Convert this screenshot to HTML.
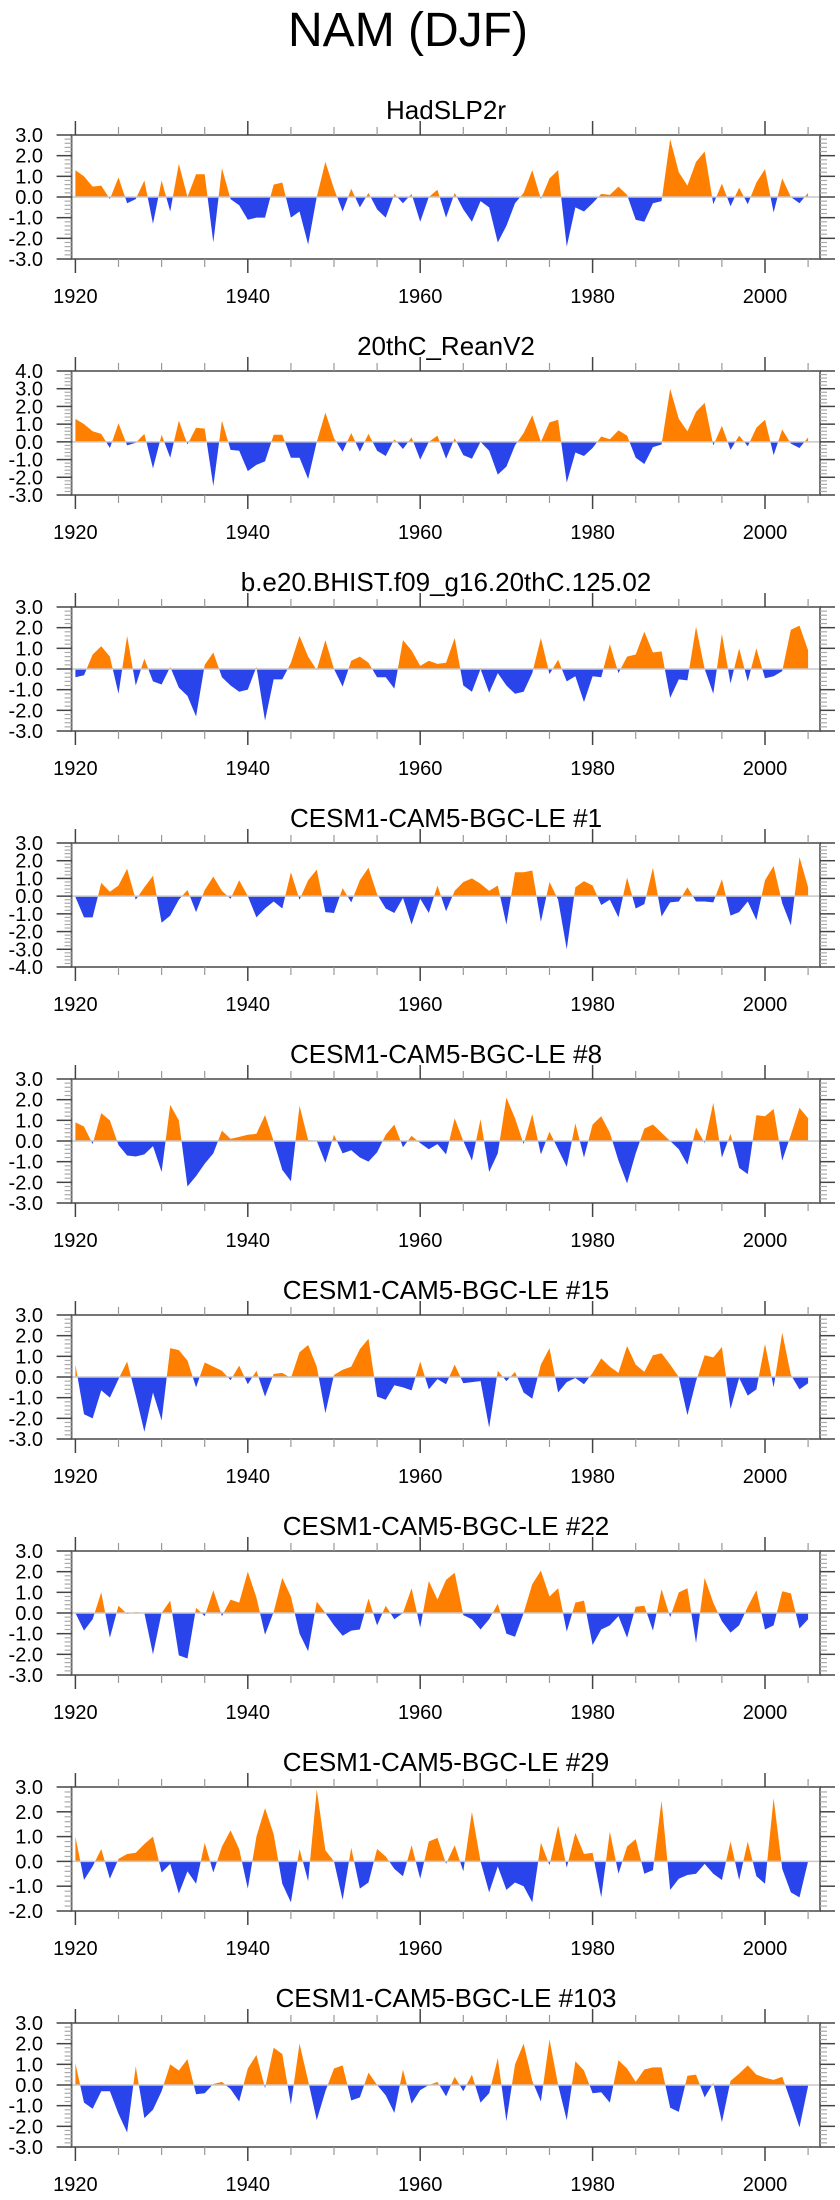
<!DOCTYPE html>
<html><head><meta charset="utf-8"><style>
html,body{margin:0;padding:0;background:#fff;}
svg{display:block;font-family:"Liberation Sans",Arial,sans-serif;}
</style></head><body>
<svg id="chart" width="840" height="2200" viewBox="0 0 840 2200" xmlns="http://www.w3.org/2000/svg">
<text x="408" y="46" font-size="48" text-anchor="middle" fill="#000">NAM (DJF)</text>
</svg>
<script>
const startYear = 1920;
const titles = ["HadSLP2r","20thC_ReanV2","b.e20.BHIST.f09_g16.20thC.125.02","CESM1-CAM5-BGC-LE #1","CESM1-CAM5-BGC-LE #8","CESM1-CAM5-BGC-LE #15","CESM1-CAM5-BGC-LE #22","CESM1-CAM5-BGC-LE #29","CESM1-CAM5-BGC-LE #103"];
const yMins = [-3,-3,-3,-4,-3,-3,-3,-2,-3];
const yMaxs = [3,4,3,3,3,3,3,3,3];
const xTickYears = [1920,1940,1960,1980,2000];
const s1 = [1.3,1.0,0.5,0.55,-0.1,0.95,-0.3,-0.1,0.8,-1.3,0.8,-0.7,1.6,0.0,1.1,1.1,-2.2,1.4,-0.1,-0.4,-1.1,-1.0,-1.0,0.6,0.7,-1.0,-0.7,-2.3,0.0,1.7,0.4,-0.7,0.4,-0.5,0.2,-0.6,-1.0,0.15,-0.3,0.15,-1.2,0.0,0.35,-1.0,0.2,-0.6,-1.2,-0.2,-0.5,-2.2,-1.4,-0.3,0.2,1.3,-0.1,0.9,1.3,-2.4,-0.5,-0.7,-0.3,0.15,0.1,0.5,0.1,-1.1,-1.2,-0.3,-0.2,2.8,1.2,0.55,1.7,2.2,-0.35,0.65,-0.45,0.45,-0.35,0.7,1.35,-0.75,0.9,0.0,-0.3,0.2];
const s2 = [1.3,1.0,0.6,0.45,-0.35,1.05,-0.2,-0.05,0.45,-1.5,0.4,-0.9,1.2,-0.15,0.8,0.75,-2.5,1.2,-0.45,-0.5,-1.65,-1.3,-1.1,0.4,0.4,-0.9,-0.9,-2.1,0.0,1.65,0.2,-0.55,0.5,-0.55,0.45,-0.5,-0.8,0.15,-0.4,0.25,-1.0,0.0,0.35,-0.95,0.2,-0.75,-0.95,0.0,-0.5,-1.85,-1.4,-0.2,0.5,1.5,0.0,1.1,1.25,-2.3,-0.6,-0.8,-0.35,0.3,0.15,0.65,0.35,-0.9,-1.25,-0.3,-0.15,3.0,1.3,0.6,1.7,2.2,-0.2,0.9,-0.45,0.35,-0.25,0.8,1.25,-0.75,0.7,-0.1,-0.35,0.25];
const s3 = [-0.4,-0.3,0.7,1.1,0.6,-1.2,1.6,-0.8,0.5,-0.6,-0.75,0.1,-0.9,-1.3,-2.3,0.2,0.8,-0.4,-0.8,-1.1,-1.0,0.1,-2.5,-0.5,-0.5,0.3,1.6,0.6,-0.05,1.4,0.0,-0.85,0.4,0.6,0.3,-0.4,-0.4,-0.95,1.4,0.9,0.15,0.4,0.25,0.3,1.5,-0.8,-1.1,0.0,-1.15,-0.2,-0.8,-1.2,-1.1,-0.2,1.5,-0.25,0.45,-0.6,-0.35,-1.6,-0.35,-0.4,1.2,-0.2,0.6,0.7,1.8,0.8,0.85,-1.4,-0.5,-0.55,2.05,0.0,-1.2,1.7,-0.7,1.0,-0.6,1.0,-0.45,-0.35,-0.1,1.9,2.1,0.9];
const s4 = [-0.05,-1.2,-1.2,0.75,0.25,0.6,1.55,-0.2,0.5,1.15,-1.5,-1.1,-0.2,0.35,-0.9,0.35,1.1,0.3,-0.15,0.9,0.0,-1.2,-0.7,-0.3,-0.7,1.35,-0.2,0.9,1.5,-0.9,-0.95,0.45,-0.35,0.9,1.6,0.1,-0.7,-0.95,-0.1,-1.6,-0.15,-0.95,0.6,-0.85,0.3,0.8,1.0,0.7,0.3,0.6,-1.6,1.35,1.35,1.45,-1.45,0.8,-0.2,-3.0,0.5,0.85,0.6,-0.5,-0.2,-1.2,1.05,-0.7,-0.45,1.6,-1.15,-0.35,-0.3,0.5,-0.3,-0.3,-0.35,0.95,-1.1,-0.9,-0.3,-1.35,0.9,1.7,-0.4,-1.65,2.2,0.5];
const s5 = [0.9,0.7,-0.15,1.35,1.0,-0.2,-0.7,-0.75,-0.65,-0.25,-1.5,1.75,1.0,-2.2,-1.7,-1.1,-0.6,0.5,0.1,0.2,0.3,0.35,1.25,0.0,-1.4,-1.95,1.7,0.05,0.0,-1.05,0.3,-0.6,-0.45,-0.8,-1.0,-0.55,0.3,0.8,-0.3,0.25,-0.1,-0.4,-0.15,-0.65,1.1,0.0,-0.95,1.05,-1.5,-0.6,2.1,1.1,-0.15,1.3,-0.65,0.45,-0.4,-1.25,0.85,-0.8,0.8,1.2,0.4,-0.95,-2.05,-0.6,0.6,0.8,0.4,0.0,-0.4,-1.15,0.65,-0.1,1.85,-0.8,0.35,-1.3,-1.6,1.25,1.2,1.55,-0.95,0.3,1.6,1.1];
const s6 = [0.6,-1.8,-2.0,-0.65,-1.0,-0.1,0.75,-0.9,-2.65,-0.75,-2.1,1.4,1.3,0.8,-0.5,0.7,0.5,0.3,-0.15,0.55,-0.35,0.3,-0.95,0.15,0.2,-0.05,1.2,1.55,0.5,-1.75,0.1,0.35,0.5,1.35,1.85,-0.95,-1.1,-0.4,-0.5,-0.65,0.75,-0.6,-0.1,-0.35,0.6,-0.3,-0.25,-0.2,-2.45,0.3,-0.2,0.25,-0.75,-1.05,0.6,1.4,-0.75,-0.25,-0.05,-0.35,0.2,0.9,0.5,0.2,1.5,0.6,0.25,1.05,1.15,0.6,0.0,-1.85,-0.2,1.05,0.95,1.45,-1.55,-0.05,-0.9,-0.6,1.6,-0.5,2.15,0.1,-0.6,-0.3];
const s7 = [0.0,-0.85,-0.3,1.0,-1.2,0.35,-0.05,0.05,0.0,-2.0,0.0,0.6,-2.05,-2.2,0.25,-0.15,1.1,-0.15,0.65,0.5,2.0,0.75,-1.05,0.05,1.7,0.8,-1.0,-1.85,0.55,0.0,-0.6,-1.1,-0.85,-0.8,0.7,-0.6,0.35,-0.3,0.0,1.2,-0.7,1.55,0.65,1.6,1.95,-0.1,-0.3,-0.8,-0.3,0.45,-1.0,-1.15,0.0,1.4,2.05,0.8,1.2,-0.9,0.5,0.6,-1.55,-0.8,-0.6,-0.15,-1.2,0.3,0.35,-0.85,1.15,-0.2,1.0,1.2,-1.45,1.7,0.5,-0.4,-0.95,-0.6,0.3,1.1,-0.8,-0.6,1.05,0.95,-0.75,-0.3];
const s8 = [1.0,-0.75,-0.2,0.5,-0.7,0.1,0.3,0.35,0.7,1.0,-0.45,-0.1,-1.3,-0.4,-0.9,0.75,-0.45,0.6,1.25,0.5,-1.1,1.0,2.15,1.1,-0.9,-1.65,0.5,-0.8,2.9,0.45,0.0,-1.55,0.55,-1.1,-0.85,0.5,0.2,-0.3,-0.6,0.65,-0.7,0.8,0.95,-0.1,0.65,-0.4,2.0,0.0,-1.25,-0.2,-1.15,-0.85,-1.0,-1.65,0.75,-0.15,1.45,-0.25,1.15,0.3,0.35,-1.45,1.2,-0.5,0.6,0.9,-0.5,-0.35,2.45,-1.15,-0.7,-0.55,-0.5,-0.1,-0.5,-0.75,0.8,-0.75,0.8,-0.6,-0.9,2.55,-0.3,-1.25,-1.45,0.0];
const s9 = [1.05,-0.85,-1.15,-0.3,-0.3,-1.4,-2.3,0.9,-1.6,-1.2,-0.3,1.0,0.7,1.25,-0.45,-0.4,0.05,0.15,-0.2,-0.8,0.8,1.45,-0.15,1.8,1.5,-0.95,2.0,0.2,-1.7,-0.3,0.8,0.95,-0.75,-0.6,0.6,0.0,-0.5,-1.35,0.75,-0.9,-0.25,0.0,0.15,-0.55,0.4,-0.3,0.5,-0.85,-0.4,1.3,-1.75,1.0,2.0,0.2,-0.8,2.2,0.0,-1.7,1.15,0.7,-0.4,-0.35,-0.85,1.2,0.8,0.15,0.75,0.85,0.85,-1.1,-1.3,0.45,0.5,-0.6,0.1,-1.8,0.2,0.55,0.95,0.5,0.35,0.25,0.4,-0.8,-2.05,-0.05];
const series = [s1,s2,s3,s4,s5,s6,s7,s8,s9];

const NS = "http://www.w3.org/2000/svg";
const svg = document.getElementById("chart");
const BOX_L = 71.6, BOX_R = 820, BOX_H = 124, FIRST_TOP = 135, GAP = 236;
function xScale(year){ return 75.4 + (year - 1920) * 8.62; }
function mk(tag, attrs, parent){ const e = document.createElementNS(NS, tag); for (const k in attrs) e.setAttribute(k, attrs[k]); (parent||svg).appendChild(e); return e; }

for (let p = 0; p < series.length; p++) {
  const top = FIRST_TOP + GAP * p, bot = top + BOX_H;
  const yMin = yMins[p], yMax = yMaxs[p];
  const yScale = v => bot - (v - yMin) / (yMax - yMin) * BOX_H;
  const g = mk("g", {});
  
  

  const t = mk("text", {x: 446, y: top - 16, "font-size": 26, "text-anchor": "middle", fill: "#000"}, g);
  t.textContent = titles[p];
  
  

  const data = series[p];
  const y0 = yScale(0);
  let d = "M" + xScale(startYear) + "," + y0;
  data.forEach((v, i) => { d += " L" + xScale(startYear + i).toFixed(2) + "," + yScale(v).toFixed(2); });
  d += " L" + xScale(startYear + data.length - 1) + "," + y0 + " Z";
  const cpA = mk("clipPath", {id: "ca" + p}, g);
  mk("rect", {x: 0, y: top, width: 840, height: y0 - top}, cpA);
  const cpB = mk("clipPath", {id: "cb" + p}, g);
  mk("rect", {x: 0, y: y0, width: 840, height: bot - y0}, cpB);
  const pos = mk("path", {d: d, fill: "#ff8000", "clip-path": "url(#ca" + p + ")"}, g);
  
  
  const neg = mk("path", {d: d, fill: "#2a44ec", "clip-path": "url(#cb" + p + ")"}, g);
  
  
  const zl = mk("line", {x1: BOX_L, x2: BOX_R, y1: y0, y2: y0, stroke: "#c8c8c8", "stroke-width": 1.5}, g);
  
  

  const box = mk("rect", {x: BOX_L, y: top, width: BOX_R - BOX_L, height: BOX_H, fill: "none", stroke: "#666", "stroke-width": 1.8}, g);
  
  

  for (let k = Math.round(yMin * 5); k <= Math.round(yMax * 5); k++) {
    const v = k / 5, yy = yScale(v), major = (k % 5 === 0);
    const len = major ? 15 : 7;
    mk("line", {x1: BOX_L - len, x2: BOX_L, y1: yy, y2: yy, stroke: major ? "#444" : "#aaa", "stroke-width": major ? 1.5 : 1.2}, g);
    mk("line", {x1: BOX_R, x2: BOX_R + len, y1: yy, y2: yy, stroke: major ? "#444" : "#aaa", "stroke-width": major ? 1.5 : 1.2}, g);
    if (major) {
      const lab = mk("text", {x: 43, y: yy + 7, "font-size": 20, "text-anchor": "end", fill: "#000"}, g);
      lab.textContent = v.toFixed(1);
      
      
    }
  }
  for (let yr = 1920; yr <= 2005; yr += 5) {
    const xx = xScale(yr), major = ((yr - 1920) % 20 === 0);
    const len = major ? 14 : 8;
    mk("line", {x1: xx, x2: xx, y1: top - len, y2: top, stroke: major ? "#444" : "#999", "stroke-width": major ? 1.5 : 1.2}, g);
    mk("line", {x1: xx, x2: xx, y1: bot, y2: bot + len, stroke: major ? "#444" : "#999", "stroke-width": major ? 1.5 : 1.2}, g);
  }
  xTickYears.forEach(yr => {
    const lab = mk("text", {x: xScale(yr), y: bot + 44, "font-size": 20, "text-anchor": "middle", fill: "#000"}, g);
    lab.textContent = String(yr);
    
    
  });
}
</script>
</body></html>
